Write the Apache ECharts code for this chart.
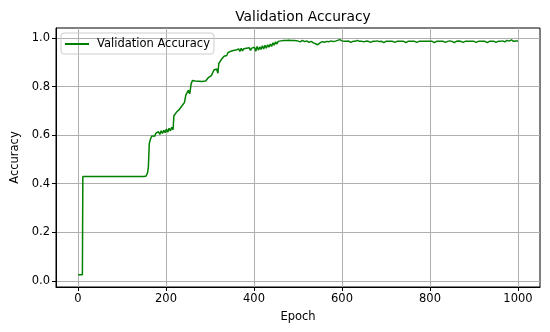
<!DOCTYPE html>
<html>
<head>
    <meta charset="utf-8" />
    <script src="https://cdn.jsdelivr.net/npm/echarts@6/dist/echarts.min.js"></script>
    <title>Validation Accuracy</title>
    <style>
        html, body { margin: 0; padding: 0; background: #fff; }
        #main { width: 550px; height: 332px; }
    </style>
</head>
<body>
    <div id="main"></div>
    <script type="text/javascript">
        // [epoch, accuracy]
        var valAcc = [
            [0, 0.025], [5, 0.025], [10, 0.025], [11, 0.43], [15, 0.43], [60, 0.43], [120, 0.43], [150, 0.43], [155, 0.432], [158, 0.445],
            [160, 0.47], [162, 0.565], [165, 0.585], [168, 0.597], [171, 0.602], [174, 0.595], [177, 0.608], [180, 0.600], [183, 0.614], [186, 0.603],
            [189, 0.618], [192, 0.607], [195, 0.620], [198, 0.610], [201, 0.625], [204, 0.612], [207, 0.628], [210, 0.618], [213, 0.632], [216, 0.622],
            [218, 0.680], [221, 0.672], [224, 0.695], [227, 0.688], [230, 0.705], [233, 0.698], [236, 0.720], [239, 0.715], [242, 0.735], [245, 0.765],
            [248, 0.758], [251, 0.785], [254, 0.770], [257, 0.810], [260, 0.825], [263, 0.818], [266, 0.823], [270, 0.818], [274, 0.822], [278, 0.817],
            [282, 0.821], [286, 0.818], [290, 0.823], [294, 0.830], [297, 0.838], [300, 0.833], [303, 0.845], [306, 0.852], [309, 0.868], [312, 0.860],
            [315, 0.872], [318, 0.855], [320, 0.895], [323, 0.900], [326, 0.912], [329, 0.905], [332, 0.925], [335, 0.932], [338, 0.928], [341, 0.940],
            [344, 0.932], [347, 0.945], [350, 0.937], [353, 0.948], [356, 0.940], [359, 0.950], [362, 0.943], [365, 0.955], [368, 0.945], [371, 0.957],
            [374, 0.947], [377, 0.956], [380, 0.948], [383, 0.958], [386, 0.950], [389, 0.960], [392, 0.949], [395, 0.958], [398, 0.952], [401, 0.962],
            [404, 0.945], [407, 0.965], [410, 0.950], [413, 0.963], [416, 0.953], [419, 0.968], [422, 0.955], [425, 0.970], [428, 0.958], [431, 0.972],
            [434, 0.962], [437, 0.975], [440, 0.965], [443, 0.980], [446, 0.970], [449, 0.984], [452, 0.975], [455, 0.986], [458, 0.978], [461, 0.988],
            [464, 0.980], [467, 0.990], [470, 0.982], [473, 0.990], [476, 0.984], [479, 0.991], [482, 0.985], [485, 0.990], [488, 0.983], [491, 0.990],
            [494, 0.985], [497, 0.989], [500, 0.986], [505, 0.984], [510, 0.990], [515, 0.985], [520, 0.988], [525, 0.982], [530, 0.986], [535, 0.980],
            [540, 0.976], [545, 0.972], [550, 0.980], [555, 0.985], [560, 0.982], [565, 0.986], [570, 0.984], [575, 0.988], [580, 0.985], [585, 0.987],
            [590, 0.990], [595, 0.993], [600, 0.988], [605, 0.986], [610, 0.986], [615, 0.987], [620, 0.982], [625, 0.986], [630, 0.986], [635, 0.990],
            [640, 0.986], [645, 0.986], [650, 0.984], [655, 0.987], [660, 0.986], [665, 0.982], [670, 0.986], [675, 0.986], [680, 0.988], [685, 0.985],
            [690, 0.986], [695, 0.981], [700, 0.986], [705, 0.986], [710, 0.986], [715, 0.986], [720, 0.982], [725, 0.986], [730, 0.986], [735, 0.986],
            [740, 0.986], [745, 0.981], [750, 0.986], [755, 0.986], [760, 0.986], [765, 0.986], [770, 0.982], [775, 0.986], [780, 0.986], [785, 0.986],
            [790, 0.986], [795, 0.986], [800, 0.986], [805, 0.986], [810, 0.981], [815, 0.986], [820, 0.986], [825, 0.986], [830, 0.986], [835, 0.982],
            [840, 0.986], [845, 0.988], [850, 0.986], [855, 0.981], [860, 0.986], [865, 0.987], [870, 0.986], [875, 0.982], [880, 0.986], [885, 0.986],
            [890, 0.986], [895, 0.986], [900, 0.986], [905, 0.982], [910, 0.986], [915, 0.986], [920, 0.986], [925, 0.986], [930, 0.981], [935, 0.986],
            [940, 0.986], [945, 0.986], [950, 0.982], [955, 0.986], [960, 0.986], [965, 0.988], [970, 0.984], [975, 0.990], [980, 0.987], [985, 0.992],
            [990, 0.986], [995, 0.987], [1000, 0.987]
        ];
        var xTicks = [0, 200, 400, 600, 800, 1000];
        var yTicks = [0, 0.2, 0.4, 0.6, 0.8, 1.0];

        var font = 'DejaVu Sans';
        var fs = 11.5;
        var chart = echarts.init(document.getElementById('main'));
        var option = {
            animation: false,
            title: {
                text: 'Validation Accuracy',
                left: 298, top: 5, textAlign: 'center',
                textStyle: { fontFamily: font, fontSize: 13.8, fontWeight: 'normal', color: '#000' }
            },
            legend: {
                left: 61, top: 33,
                orient: 'vertical',
                icon: 'rect',
                borderColor: '#cccccc', borderWidth: 1, borderRadius: 3,
                padding: [5, 4, 4, 4],
                itemWidth: 24, itemHeight: 2, itemGap: 4,
                textStyle: { fontFamily: font, fontSize: fs, color: '#000', padding: [0, 0, 0, 3] }
            },
            grid: {
                left: 56, right: 10, top: 28, bottom: 45,
                show: true, borderColor: '#000', borderWidth: 1
            },
            xAxis: {
                type: 'value', min: -50, max: 1050,
                name: 'Epoch', nameLocation: 'middle', nameGap: 24,
                nameTextStyle: { fontFamily: font, fontSize: fs, color: '#000' },
                axisLine: { show: true, onZero: false, lineStyle: { color: '#000', width: 1 } },
                axisTick: { show: true, length: 4, customValues: xTicks, lineStyle: { color: '#000' } },
                axisLabel: {
                    customValues: xTicks, fontFamily: font, fontSize: fs, color: '#000', margin: 6,
                    formatter: function (v) { return String(v); }
                },
                splitLine: { show: true, lineStyle: { color: '#b0b0b0', width: 1 } }
            },
            yAxis: {
                type: 'value', min: -0.025, max: 1.041,
                name: 'Accuracy', nameLocation: 'middle', nameGap: 33, nameRotate: 90,
                nameTextStyle: { fontFamily: font, fontSize: fs, color: '#000' },
                axisLine: { show: true, onZero: false, lineStyle: { color: '#000', width: 1 } },
                axisTick: { show: true, length: 4, customValues: yTicks, lineStyle: { color: '#000' } },
                axisLabel: {
                    customValues: yTicks, fontFamily: font, fontSize: fs, color: '#000', margin: 6,
                    formatter: function (v) { return v.toFixed(1); }
                },
                splitLine: { show: true, lineStyle: { color: '#b0b0b0', width: 1 } }
            },
            series: [{
                name: 'Validation Accuracy',
                type: 'line',
                symbol: 'none',
                lineStyle: { color: '#008000', width: 1.5 },
                itemStyle: { color: '#008000' },
                data: valAcc
            }]
        };
        chart.setOption(option);
    </script>
</body>
</html>
